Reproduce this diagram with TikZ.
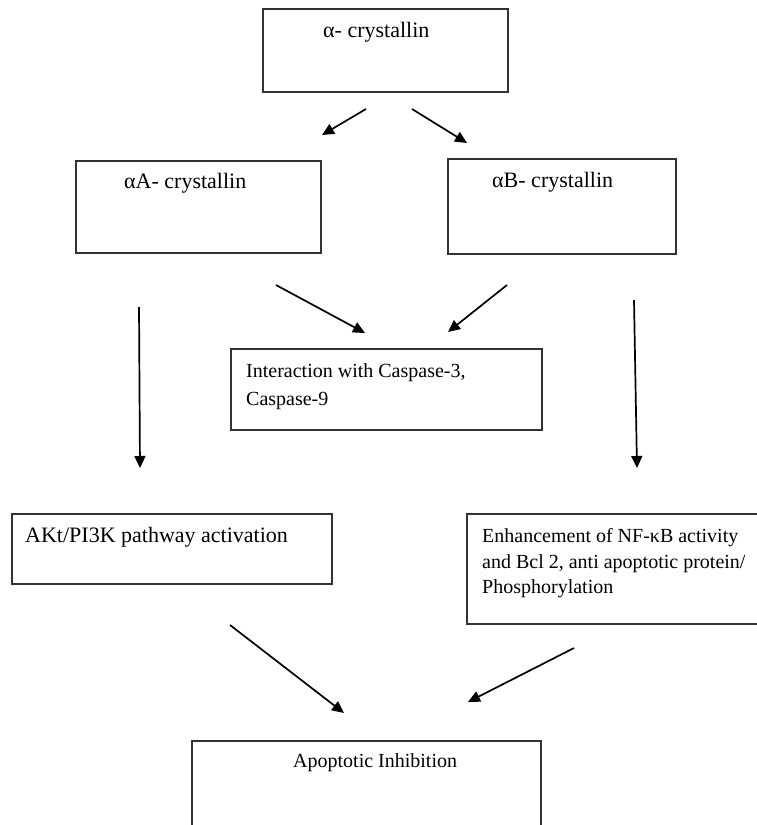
\documentclass[tikz,border=0pt]{standalone}
\usepackage{fontspec}
\setmainfont{Liberation Serif}
\usetikzlibrary{arrows.meta}
\definecolor{boxgray}{HTML}{333333}
\tikzset{
  box/.style={draw=boxgray, line width=1.5bp, inner sep=0pt, rectangle},
  lbl/.style={inner sep=0pt, anchor=base west, font=\fontsize{#1}{26bp}\selectfont},
  mlbl/.style={inner sep=0pt, anchor=north west, align=left, font=\fontsize{20bp}{#1}\selectfont},
  arr/.style={line width=1.7bp, -{Triangle[length=12bp,width=11bp]}}
}
\begin{document}
\begin{tikzpicture}[x=1bp,y=-1bp]
\clip (0,0) rectangle (757,825);
\fill[white] (0,0) rectangle (757,825);
% boxes
\node[box, minimum width=245bp, minimum height=83bp] (top) at (385.5,50.5) {};
\node[box, minimum width=245bp, minimum height=92bp] (aA) at (198.5,207) {};
\node[box, minimum width=228bp, minimum height=95bp] (aB) at (562,206.5) {};
\node[box, minimum width=311bp, minimum height=81bp] (inter) at (386.5,389.5) {};
\node[box, minimum width=320bp, minimum height=70bp] (akt) at (172,549) {};
\node[box, minimum width=308bp, minimum height=110bp] (nfkb) at (621,569) {};
\node[box, minimum width=349bp, minimum height=104bp] (apop) at (366.5,793) {};
% texts
\node[lbl=22bp] (topt) at (323,37) {α- crystallin};
\node[lbl=22bp] (aAt) at (124,188) {αA- crystallin};
\node[lbl=22bp] (aBt) at (492,187) {αB- crystallin};
\node[mlbl=28bp] (intert) at (246,363.5) {Interaction with Caspase-3,\\Caspase-9};
\node[lbl=22bp] (aktt) at (25,542) {AKt/PI3K pathway activation};
\node[mlbl=25.5bp] (nfkbt) at (482,528.5) {Enhancement of NF-κB activity\\and Bcl 2, anti apoptotic protein/\\Phosphorylation};
\node[lbl=20bp] (apopt) at (293,767) {Apoptotic Inhibition};
% arrow end points
\coordinate (c1s) at (366,109); \coordinate (c1e) at (322,135);
\coordinate (c2s) at (412,109); \coordinate (c2e) at (467,143);
\coordinate (c3s) at (276,285); \coordinate (c3e) at (365,333);
\coordinate (c4s) at (507,285); \coordinate (c4e) at (448,332);
\coordinate (c5s) at (139,307); \coordinate (c5e) at (140,468);
\coordinate (c6s) at (634,300); \coordinate (c6e) at (637,468);
\coordinate (c7s) at (230,625); \coordinate (c7e) at (344,713);
\coordinate (c8s) at (574,648); \coordinate (c8e) at (468,702);
\draw[arr] (c1s) -- (c1e);
\draw[arr] (c2s) -- (c2e);
\draw[arr] (c3s) -- (c3e);
\draw[arr] (c4s) -- (c4e);
\draw[arr] (c5s) -- (c5e);
\draw[arr] (c6s) -- (c6e);
\draw[arr] (c7s) -- (c7e);
\draw[arr] (c8s) -- (c8e);
\end{tikzpicture}
\end{document}
